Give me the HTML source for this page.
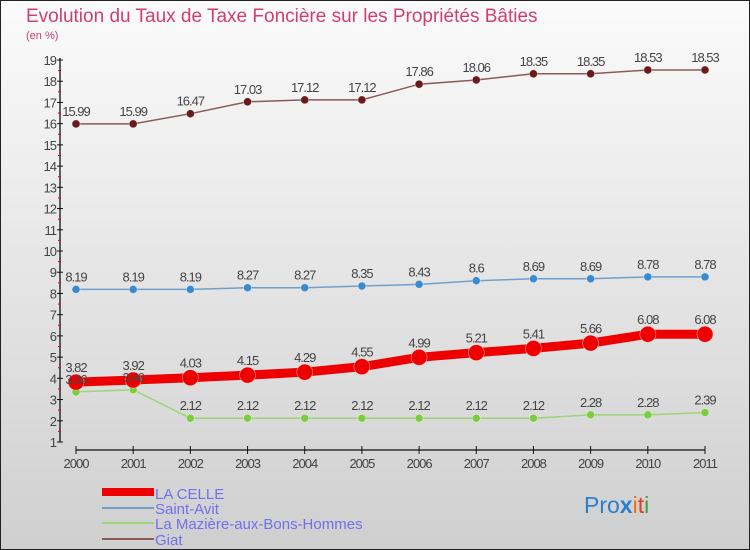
<!DOCTYPE html>
<html><head><meta charset="utf-8"><style>
body{margin:0;width:750px;height:550px;overflow:hidden}
svg{display:block;font-family:"Liberation Sans",sans-serif}
</style></head><body>
<svg id="chart" width="750" height="550">
<defs><linearGradient id="bg" x1="0" y1="0" x2="0" y2="1"><stop offset="0" stop-color="#fbfbfb"/><stop offset="1" stop-color="#cfcfcf"/></linearGradient></defs>
<rect x="0.5" y="0.5" width="749" height="549" fill="url(#bg)" stroke="#222"/>
<text x="26" y="22" font-size="19" fill="#d0406a">Evolution du Taux de Taxe Foncière sur les Propriétés Bâties</text>
<text x="26" y="39" font-size="11" fill="#d0406a">(en %)</text>
<g id="axes"></g><g id="series"></g><g id="labels"></g>
<g>
<rect x="102" y="488" width="52" height="8" fill="#e00"/>
<text x="155" y="499" font-size="15" fill="#7070ee">LA CELLE</text>
<rect x="102" y="507" width="52" height="2" fill="#6fa0cc"/>
<text x="155" y="514" font-size="15" fill="#7070ee">Saint-Avit</text>
<rect x="102" y="522" width="52" height="2" fill="#9ed47a"/>
<text x="155" y="529" font-size="15" fill="#7070ee">La Mazière-aux-Bons-Hommes</text>
<rect x="102" y="538" width="52" height="2" fill="#8a5a5a"/>
<text x="155" y="545" font-size="15" fill="#7070ee">Giat</text>
</g>
<text x="584" y="513" font-size="23"><tspan fill="#2a7fd0">Pro</tspan><tspan fill="#2a7fd0" font-weight="bold">x</tspan><tspan fill="#f07010">i</tspan><tspan fill="#e04020">t</tspan><tspan fill="#40a040">i</tspan></text>
</svg>
<script>
const years=["2000","2001","2002","2003","2004","2005","2006","2007","2008","2009","2010","2011"];
const laCelle=[3.82,3.92,4.03,4.15,4.29,4.55,4.99,5.21,5.41,5.66,6.08,6.08];
const saintAvit=[8.19,8.19,8.19,8.27,8.27,8.35,8.43,8.6,8.69,8.69,8.78,8.78];
const maziere=[3.36,3.46,2.12,2.12,2.12,2.12,2.12,2.12,2.12,2.28,2.28,2.39];
const giat=[15.99,15.99,16.47,17.03,17.12,17.12,17.86,18.06,18.35,18.35,18.53,18.53];
const yTicks=[1,2,3,4,5,6,7,8,9,10,11,12,13,14,15,16,17,18,19];
const NS="http://www.w3.org/2000/svg";
const xs=i=>76+i*(705-76)/11;
const ys=v=>442-(v-1)*(382/18);
function mk(tag,attrs,parent){const e=document.createElementNS(NS,tag);for(const k in attrs)e.setAttribute(k,attrs[k]);parent.appendChild(e);return e;}
const ax=document.getElementById('axes'),sg=document.getElementById('series'),lg=document.getElementById('labels');
let l=mk('line',{x1:60,y1:ys(19)-2,x2:60,y2:ys(1),stroke:'#111','stroke-width':1.3},ax);


yTicks.forEach(v=>{
 const t=mk('line',{x1:57,x2:63,y1:ys(v),y2:ys(v),stroke:'#111'},ax);
 
 
 if(v<19){const m=mk('line',{x1:58,x2:61,y1:ys(v+0.5),y2:ys(v+0.5),stroke:'#e00'},ax);
 
 }
 const tx=mk('text',{x:56,y:ys(v)+5,'font-size':13,'text-anchor':'end',fill:'#444','letter-spacing':'-1'},ax);
 tx.textContent=v;
 
 
});
l=mk('line',{x1:xs(0),y1:450,x2:xs(11),y2:450,stroke:'#111','stroke-width':1.3},ax);


years.forEach((y,i)=>{
 const t=mk('line',{x1:xs(i),x2:xs(i),y1:446,y2:454,stroke:'#111'},ax);
 
 
 const tx=mk('text',{x:xs(i),y:468,'font-size':13,'text-anchor':'middle',fill:'#444','letter-spacing':'-1'},ax);
 tx.textContent=y;
 
 
});
function series(vals,name,line,dot,w,r){
 const g=mk('g',{},sg);
 
 
 const p=mk('polyline',{points:vals.map((v,i)=>xs(i)+','+ys(v)).join(' '),fill:'none',stroke:line,'stroke-width':w},g);
 
 
 vals.forEach((v,i)=>{
  const c=mk('circle',{cx:xs(i),cy:ys(v),r:r,fill:dot,stroke:'#fff','stroke-opacity':0.5,'stroke-width':0.7},g);
  
  
  const t=mk('text',{x:xs(i),y:ys(v)-(r>5?10:8),'font-size':13,'text-anchor':'middle',fill:'#444','letter-spacing':'-1'},lg);
  t.textContent=String(v);
  
  
 });
}
series(giat,'giat','#8a5a5a','#6a1a1a',1.5,4);
series(saintAvit,'saint-avit','#6fa0cc','#3a8ad0',1.5,4);
series(maziere,'maziere','#9ed47a','#7acc40',1.5,4);
series(laCelle,'la-celle','#e00','#e00',9,8);
</script>
</body></html>
